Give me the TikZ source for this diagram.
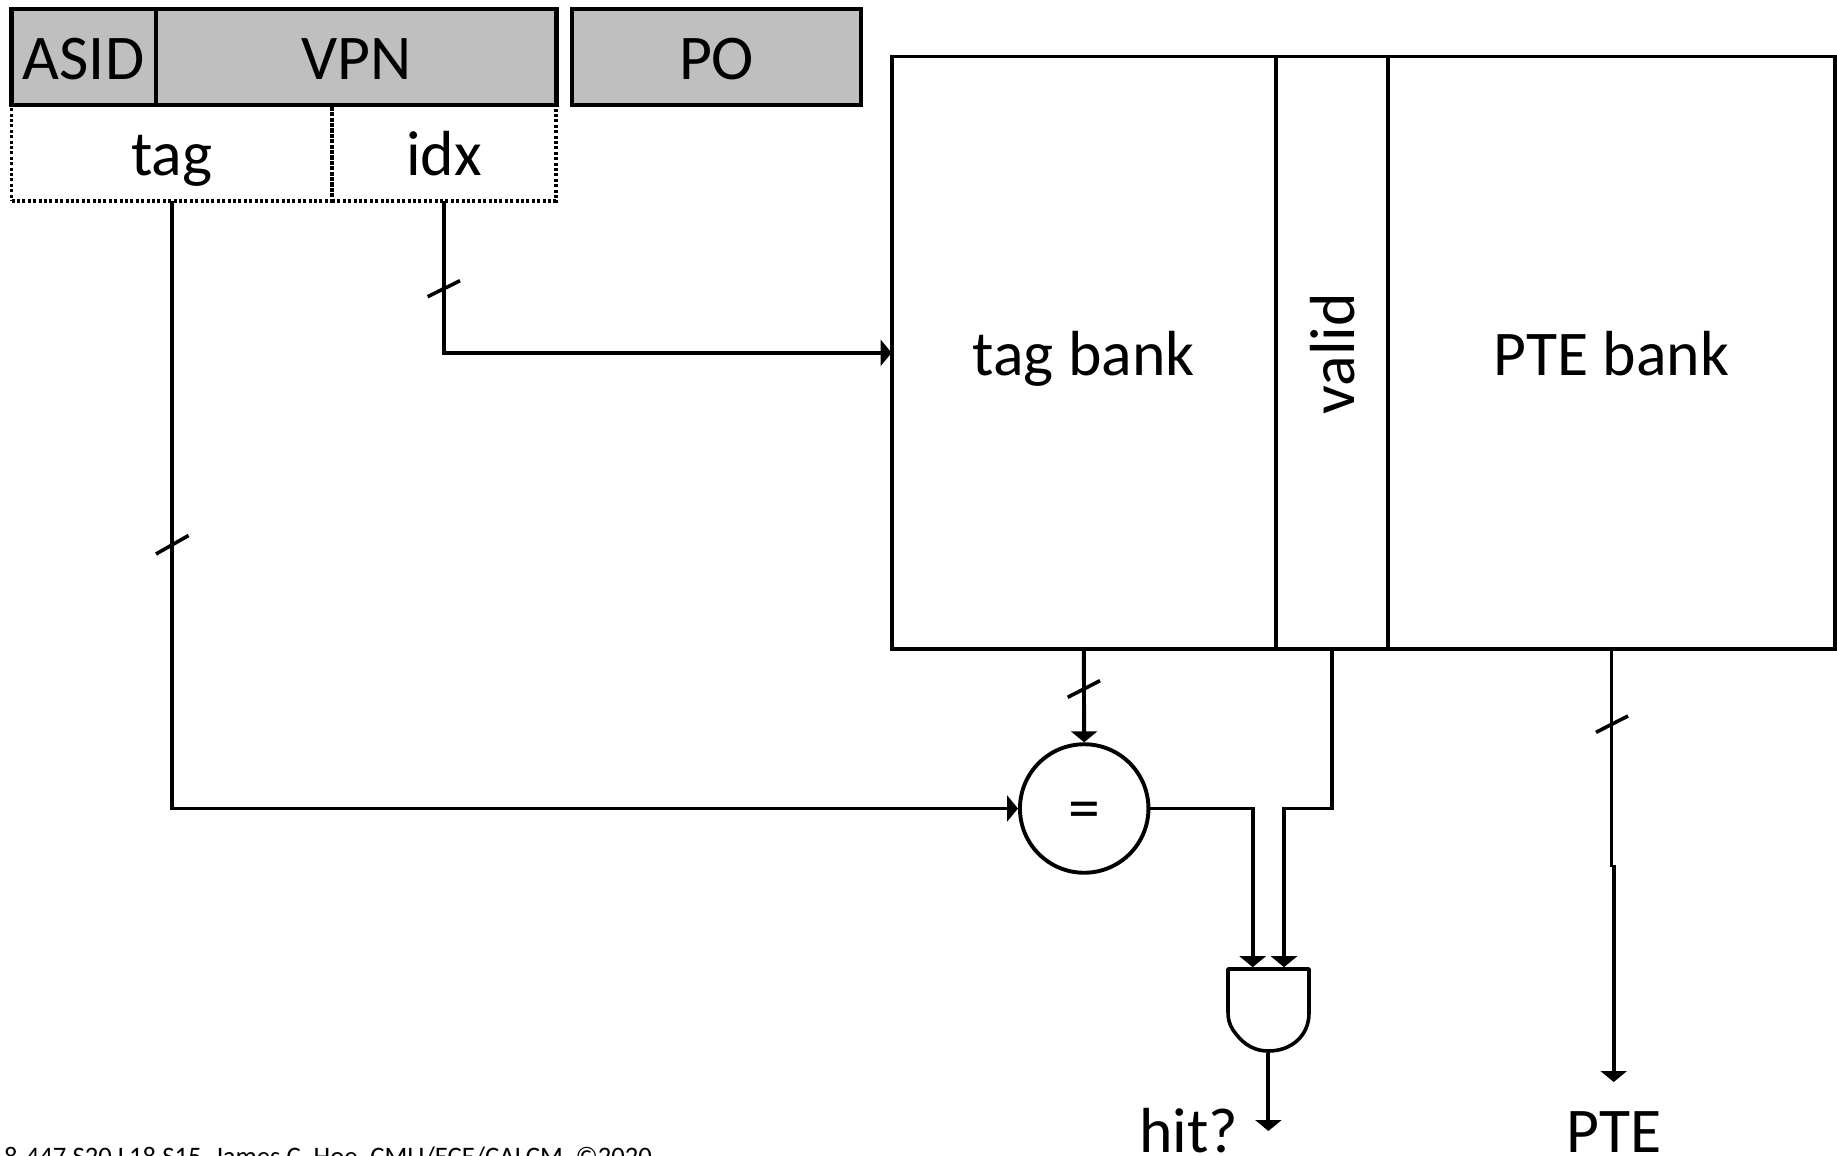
\documentclass[tikz,border=0pt]{standalone}
\usepackage{fontspec}
\setmainfont{Carlito}
\usetikzlibrary{arrows.meta,calc}
\definecolor{cellgrey}{HTML}{BFBFBF}
\newcommand{\biglabel}{\fontsize{63.7}{70}\selectfont}
\tikzset{
  wire/.style={line width=3.9pt,line cap=butt,line join=miter},
  arrowwire/.style={wire,-{Triangle[width=26pt,length=11pt]}},
  tickmark/.style={line width=3.6pt},
  cell/.style={rectangle,draw=black,line width=4.2pt,inner sep=0pt,outer sep=0pt,font=\biglabel,align=center},
  greycell/.style={cell,fill=cellgrey,text height=44pt,text depth=0pt},
  dashcell/.style={cell,line width=3.8pt,dash pattern=on 3pt off 2.4pt,text height=45pt,text depth=0pt},
  bankcell/.style={cell,line width=3.9pt,text height=45pt,text depth=0pt},
  plainlabel/.style={inner sep=0pt,outer sep=0pt,font=\biglabel,anchor=base},
}
\begin{document}
\begin{tikzpicture}[x=1pt,y=-1pt]
\useasboundingbox (0,0) rectangle (1837,1156);
% address field cells
\node[dashcell,minimum width=320.5pt,minimum height=95.7pt] (tagcell) at (171.75,153) {tag};
\node[dashcell,minimum width=224pt,minimum height=95.7pt] (idxcell) at (444,153) {idx};
\node[greycell,minimum width=144.1pt,minimum height=96pt] (asid) at (83.55,57) {ASID};
\node[greycell,minimum width=400.4pt,minimum height=96pt] (vpn) at (356.3,57) {VPN};
\node[greycell,minimum width=288.5pt,minimum height=96pt] (po) at (716.6,57) {PO};
% banks
\node[bankcell,minimum width=384.4pt,minimum height=592.5pt] (tagbank) at (1083.8,352.8) {tag bank};
\node[bankcell,minimum width=112pt,minimum height=592.5pt] (validbank) at (1332,352.8) {};
\node[bankcell,minimum width=447pt,minimum height=592.5pt] (ptebank) at (1611.5,352.8) {PTE bank};
\node[plainlabel,rotate=90] (validtext) at (1354,353.5) {valid};
% comparator
\node[circle,draw=black,line width=3.9pt,minimum size=128.5pt,inner sep=0pt,font=\biglabel,text height=41pt,text depth=0pt] (cmp) at (1084.2,808.5) {=};
% AND gate (outline drawn around an invisible named node)
\node[rectangle,minimum width=81pt,minimum height=82pt,inner sep=0pt,outer sep=1.8pt] (andgate) at (1268.4,1010) {};
\draw[line width=3.6pt,line join=round]
  (1228,969) -- (1309,969) -- (1309,1013)
  .. controls (1309,1036) and (1291,1051) .. (1268.5,1051)
  .. controls (1250,1051) and (1240,1040) .. (1233,1030)
  .. controls (1229,1024) and (1228,1018) .. (1228,1012) -- cycle;
% free ends and bends
\coordinate (hitend) at (andgate.south |- 0,1131);
\coordinate (pteend) at (1613.7,1082);
\coordinate (ptejog) at (ptebank.south |- 0,867);
\coordinate (ptejogb) at (pteend |- ptejog);
\coordinate (ain) at (1252.7,0);
\coordinate (bin) at (1284,0);
% connectors
\draw[arrowwire] (idxcell.south) |- (tagbank.west);
\draw[arrowwire] (tagcell.south) |- (cmp.west);
\draw[arrowwire] (tagbank.south) -- (cmp.north);
\draw[wire] (ptebank.south) -- (ptejog);
\draw[arrowwire] (ptejogb |- 0,865) -- (pteend);
\draw[arrowwire] (cmp.east) -| (ain |- andgate.north);
\draw[arrowwire] (validbank.south) |- (bin |- cmp.east) -- (bin |- andgate.north);
\draw[arrowwire] (andgate.south) -- (hitend);
% bus ticks
\draw[tickmark] (427.7,296.7) -- (460,280.7);
\draw[tickmark] (156,554) -- (188.6,535.5);
\draw[tickmark] (1067.7,697.3) -- (1100,680.7);
\draw[tickmark] (1596,732.3) -- (1628,716);
% labels
\node[plainlabel] (hitlabel) at (1188.5,1152.5) {hit?};
\node[plainlabel] (ptelabel) at (1614,1152.5) {PTE};
\node[inner sep=0pt,outer sep=0pt,anchor=base east,font=\fontsize{26.7}{30}\selectfont] (footer) at (652,1165) {18-447 S20 L18 S15, James C. Hoe, CMU/ECE/CALCM, ©2020};
\end{tikzpicture}
\end{document}
